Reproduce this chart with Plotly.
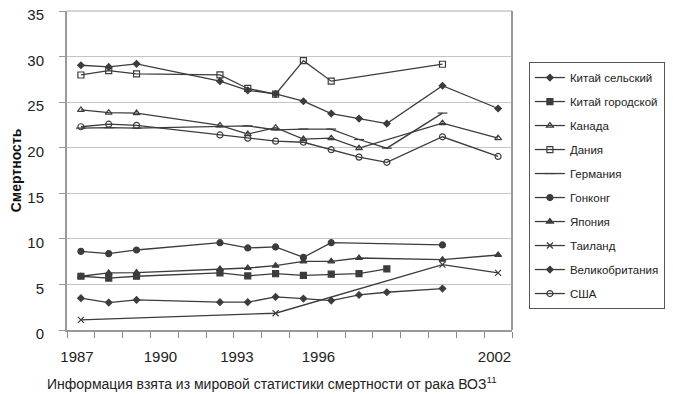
import plotly.graph_objects as go

# ---- data ----
years = [1987, 1988, 1989, 1992, 1993, 1994, 1995, 1996, 1997, 1998, 2000, 2002]

china_rural = [29.05, 28.86, 29.2, 27.3, 26.3, 25.9, 25.1, 23.75, 23.2, 22.65, 26.8, 24.3]
china_urban = [5.9, 5.7, 5.9, 6.26, 5.93, 6.19, 6.0, 6.12, 6.19, 6.7, None, None]
canada = [24.15, 23.85, 23.8, 22.45, 21.5, 22.2, 20.95, 21.05, 19.95, None, 22.7, 21.05]
denmark = [27.98, 28.46, 28.1, 28.0, 26.5, 25.87, 29.55, 27.3, None, None, 29.16, None]
germany = [22.15, 22.2, 22.15, 22.3, 22.4, 21.95, 22.05, 22.05, 20.9, 19.95, 23.8, None]
hongkong = [8.63, 8.38, 8.78, 9.58, 9.0, 9.11, 7.97, 9.58, None, None, 9.33, None]
japan = [5.9, 6.26, 6.3, 6.7, 6.8, 7.06, 7.54, 7.54, 7.9, None, 7.72, 8.23]
thailand = [1.11, None, None, None, None, 1.84, None, None, None, None, 7.17, 6.26]
uk = [3.49, 3.01, 3.3, 3.05, 3.05, 3.63, 3.45, 3.23, 3.85, 4.14, 4.54, None]
usa = [22.3, 22.58, 22.45, 21.4, 21.05, 20.72, 20.6, 19.78, 18.97, 18.4, 21.2, 19.04]

series_names = ["Китай сельский", "Китай городской", "Канада", "Дания", "Германия",
                "Гонконг", "Япония", "Таиланд", "Великобритания", "США"]
series_values = [china_rural, china_urban, canada, denmark, germany,
                 hongkong, japan, thailand, uk, usa]

x_tick_labels = ["1987", "1990", "1993", "1996", "2002"]
y_tick_values = [0, 5, 10, 15, 20, 25, 30, 35]

y_title = "Смертность"
caption = "Информация взята из мировой статистики смертности от рака ВОЗ<sup>11</sup>"

# ---- styles ----
x_tick_pos = [1986.86, 1989.86, 1992.61, 1995.54, 2001.87]
symbols = ["diamond", "square", "triangle-up-open", "square-open", "line-ew",
           "circle", "triangle-up", "x-thin", "diamond", "circle-open"]
sizes = [5, 6, 6, 6, 7, 6, 6, 6, 5, 6]
col = "#3c3c3c"
FONT = "Liberation Sans, Arial, sans-serif"

fig = go.Figure()
for i, (name, vals) in enumerate(zip(series_names, series_values)):
    fig.add_trace(go.Scatter(
        x=years, y=vals, name=name, mode="lines+markers",
        connectgaps=True, legendgroup=f"g{i}",
        line=dict(color=col, width=1.3),
        marker=dict(symbol=symbols[i], size=sizes[i], color=col,
                    line=dict(color=col, width=1.2)),
    ))

# page body has an 8px default margin, so the figure is 8px smaller on each side
fig.update_layout(
    width=665, height=386,
    margin=dict(l=59, r=161, t=3, b=64, autoexpand=False),
    paper_bgcolor="white", plot_bgcolor="white",
    font=dict(family=FONT, color="#222", size=15),
    showlegend=True,
    legend=dict(
        x=1.038, y=0.84, xanchor="left", yanchor="top",
        bordercolor="#555", borderwidth=1,
        font=dict(size=11.5, family=FONT, color="#222"),
        tracegroupgap=5, itemwidth=30,
    ),
    xaxis=dict(
        range=[1986.5, 2002.5], tickvals=x_tick_pos, ticktext=x_tick_labels,
        ticks="", showgrid=False, zeroline=False, automargin=False,
        showline=True, linecolor="#999", linewidth=2, mirror=False,
        ticklabelstandoff=12,
        tickfont=dict(size=15, family=FONT, color="#222"),
        minor=dict(tick0=1986.5, dtick=1, ticks="outside", ticklen=6,
                   tickcolor="#888", tickwidth=1, showgrid=False),
    ),
    yaxis=dict(
        range=[0, 35], tickvals=y_tick_values, ticks="outside", ticklen=6,
        tickcolor="#999", showgrid=True, gridcolor="#c4c4c4", gridwidth=1,
        zeroline=False, showline=True, linecolor="#999", linewidth=2,
        automargin=False, ticklabelstandoff=12, ticklabeloverflow="allow",
        ticklabelshift=4,
        tickfont=dict(size=15, family=FONT, color="#222"),
        title=dict(text="<b>" + y_title + "</b>", font=dict(size=14, family=FONT, color="#111"),
                   standoff=7),
    ),
)

# frame on top and right
fig.add_shape(type="line", xref="paper", yref="paper", x0=0, x1=1, y0=1, y1=1,
              line=dict(color="#aaa", width=1))
fig.add_shape(type="line", xref="paper", yref="paper", x0=1, x1=1, y0=0, y1=1,
              line=dict(color="#999", width=2))

fig.add_annotation(text=caption, xref="paper", yref="paper", x=-0.049, y=-0.166,
                   xanchor="left", yanchor="middle", showarrow=False,
                   font=dict(size=14, family=FONT, color="#222"))

fig.write_html("out.html")
